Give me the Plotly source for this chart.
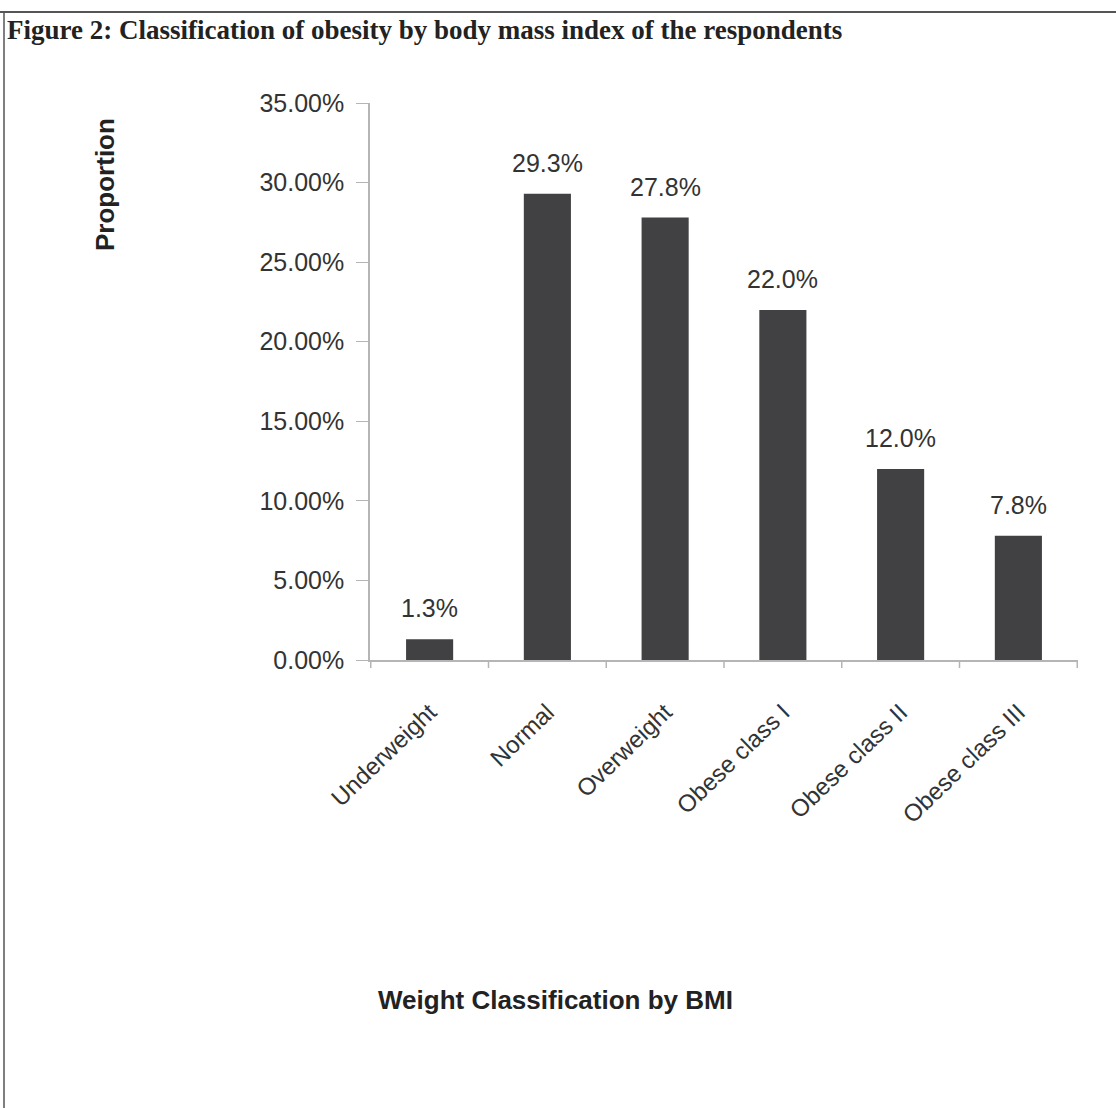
import plotly.graph_objects as go

categories = ["Underweight", "Normal", "Overweight", "Obese class I", "Obese class II", "Obese class III"]
proportions = [0.013, 0.293, 0.278, 0.220, 0.120, 0.078]
value_labels = ["1.3%", "29.3%", "27.8%", "22.0%", "12.0%", "7.8%"]
y_ticks = [0, 0.05, 0.10, 0.15, 0.20, 0.25, 0.30, 0.35]

W, H = 1116, 1108
L, R, T, B = 370, 38, 103, 448
pw, ph = W - L - R, H - T - B

def px(x):
    return (x - L) / pw

def py(y):
    return (H - B - y) / ph

fig = go.Figure(go.Bar(
    x=categories, y=proportions,
    marker=dict(color="#414043", line=dict(width=0)),
    width=0.4,
    hoverinfo="skip",
))

for c, v, t in zip(categories, proportions, value_labels):
    fig.add_annotation(x=c, y=v, text=t, showarrow=False, yanchor="bottom", yshift=15,
                       font=dict(family="Liberation Sans, Arial", size=25, color="#333333"))

fig.add_annotation(xref="paper", yref="paper", x=px(5), y=py(30), xanchor="left", yanchor="middle",
                   text="<b>Figure 2: Classification of obesity by body mass index of the respondents</b>",
                   showarrow=False, font=dict(family="Liberation Serif, Times New Roman", size=27, color="#222222"))
fig.add_annotation(xref="paper", yref="paper", x=px(105), y=py(185), xanchor="center", yanchor="middle",
                   textangle=-90, text="<b>Proportion</b>", showarrow=False,
                   font=dict(family="Liberation Sans, Arial", size=26, color="#222222"))
fig.add_annotation(xref="paper", yref="paper", x=px(555), y=py(1000), xanchor="center", yanchor="middle",
                   text="<b>Weight Classification by BMI</b>", showarrow=False,
                   font=dict(family="Liberation Sans, Arial", size=26, color="#222222"))

# page border (top and left edges)
fig.add_shape(type="line", xref="paper", yref="paper", x0=px(0), x1=px(W), y0=py(12), y1=py(12),
              line=dict(color="#555555", width=2))
fig.add_shape(type="line", xref="paper", yref="paper", x0=px(4), x1=px(4), y0=py(12), y1=py(H),
              line=dict(color="#555555", width=1.5))

fig.update_layout(
    width=W, height=H,
    margin=dict(l=L, r=R, t=T, b=B),
    paper_bgcolor="white", plot_bgcolor="white",
    showlegend=False,
    bargap=0.6,
    xaxis=dict(
        type="category", showline=True, linecolor="#b5b5b5", linewidth=1.5,
        ticks="", tickangle=-44, showgrid=False, ticklabelstandoff=27,
        tickfont=dict(family="Liberation Sans, Arial", size=24, color="#333333"),
    ),
    yaxis=dict(
        range=[0, 0.35], tickvals=y_ticks, tickformat=".2%",
        showline=True, linecolor="#b5b5b5", linewidth=1.5,
        ticks="outside", ticklen=12, tickcolor="#b5b5b5", showgrid=False, zeroline=False,
        tickfont=dict(family="Liberation Sans, Arial", size=25, color="#333333"),
        ticklabelstandoff=7,
    ),
)

# category divider ticks below x axis
for i in range(len(categories) + 1):
    fig.add_shape(type="line", xref="x", yref="paper", x0=i - 0.5, x1=i - 0.5, y0=0, y1=-8 / ph,
                  line=dict(color="#b5b5b5", width=1.5))

fig.write_html("out.html")
